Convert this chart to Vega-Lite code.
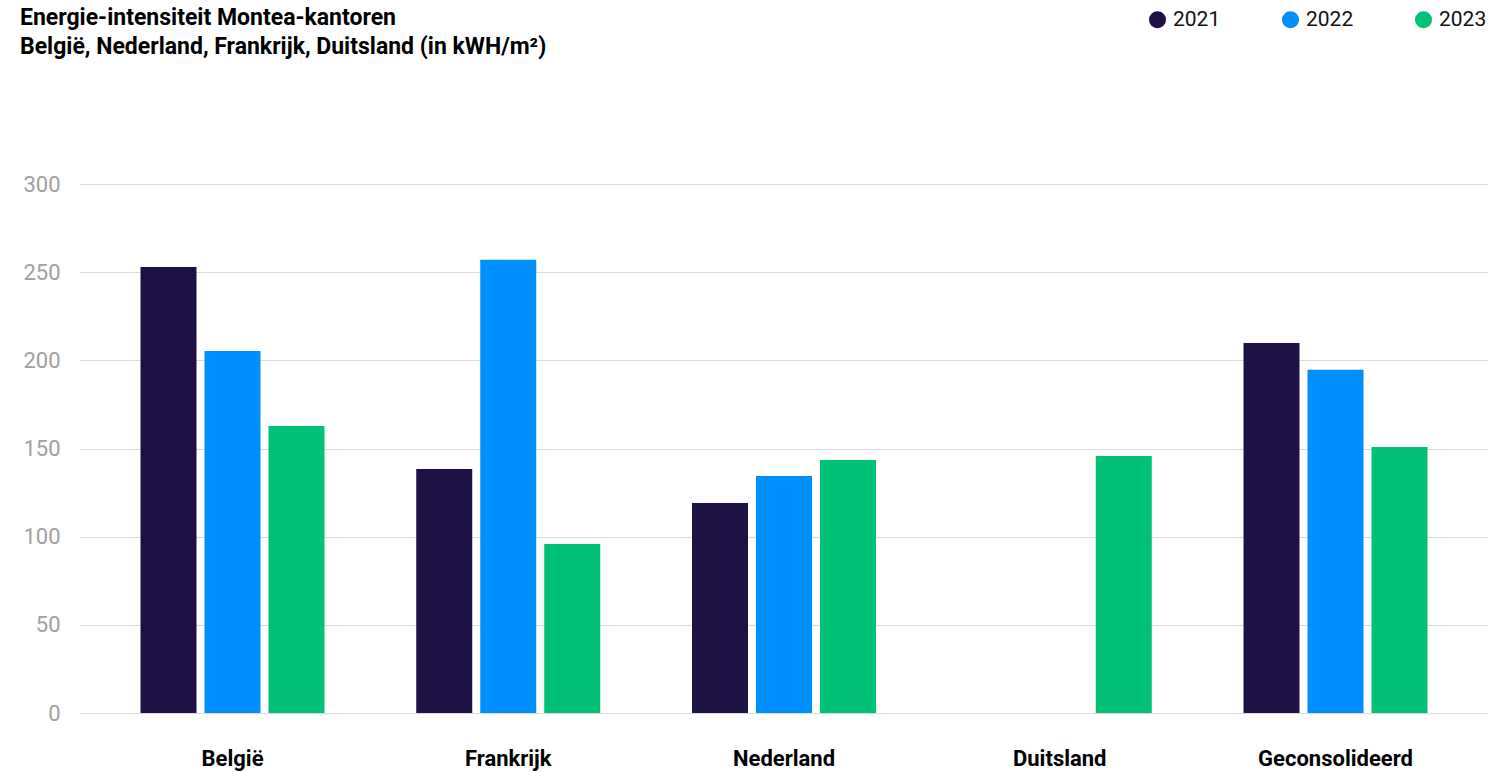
{
  "$schema": "https://vega.github.io/schema/vega-lite/v6.json",
  "width": 1408,
  "height": 529,
  "autosize": {"type": "none"},
  "padding": {"left": 80, "top": 184, "right": 0, "bottom": 59},
  "background": "white",
  "title": {
    "text": ["Energie-intensiteit Montea-kantoren", "België, Nederland, Frankrijk, Duitsland (in kWH/m²)"],
    "anchor": "start",
    "frame": "group",
    "dx": -60,
    "offset": -50,
    "font": "Roboto",
    "fontSize": 23,
    "fontWeight": "bold",
    "color": "#000000",
    "lineHeight": 29
  },
  "config": {"view": {"stroke": null}},
  "data": {
    "values": [
      {"land": "België", "jaar": "2021", "waarde": 253},
      {"land": "België", "jaar": "2022", "waarde": 205.3},
      {"land": "België", "jaar": "2023", "waarde": 162.8},
      {"land": "Frankrijk", "jaar": "2021", "waarde": 138.4},
      {"land": "Frankrijk", "jaar": "2022", "waarde": 257},
      {"land": "Frankrijk", "jaar": "2023", "waarde": 95.9},
      {"land": "Nederland", "jaar": "2021", "waarde": 119.1},
      {"land": "Nederland", "jaar": "2022", "waarde": 134.4},
      {"land": "Nederland", "jaar": "2023", "waarde": 143.5},
      {"land": "Duitsland", "jaar": "2021", "waarde": null},
      {"land": "Duitsland", "jaar": "2022", "waarde": null},
      {"land": "Duitsland", "jaar": "2023", "waarde": 145.8},
      {"land": "Geconsolideerd", "jaar": "2021", "waarde": 209.9},
      {"land": "Geconsolideerd", "jaar": "2022", "waarde": 194.6},
      {"land": "Geconsolideerd", "jaar": "2023", "waarde": 150.9}
    ]
  },
  "mark": {"type": "bar"},
  "encoding": {
    "x": {
      "field": "land",
      "type": "nominal",
      "sort": ["België", "Frankrijk", "Nederland", "Duitsland", "Geconsolideerd"],
      "scale": {"paddingInner": 0, "paddingOuter": 0.053},
      "axis": {
        "title": null,
        "labelAngle": 0,
        "labelFont": "Roboto",
        "labelFontSize": 22,
        "labelFontWeight": "bold",
        "labelColor": "#000000",
        "labelPadding": 35,
        "domain": false,
        "ticks": false
      }
    },
    "xOffset": {
      "field": "jaar",
      "type": "nominal",
      "scale": {"paddingInner": 0.125, "paddingOuter": 0.717}
    },
    "y": {
      "field": "waarde",
      "type": "quantitative",
      "scale": {"domain": [0, 300]},
      "axis": {
        "title": null,
        "values": [0, 50, 100, 150, 200, 250, 300],
        "grid": true,
        "gridColor": "#dcdcdc",
        "gridWidth": 1,
        "domain": false,
        "ticks": false,
        "labelFont": "Roboto",
        "labelFontSize": 22,
        "labelColor": "#a0a0a0",
        "labelPadding": 20
      }
    },
    "color": {
      "field": "jaar",
      "type": "nominal",
      "scale": {"domain": ["2021", "2022", "2023"], "range": ["#1e1145", "#008ffe", "#00c176"]},
      "legend": {
        "title": null,
        "orient": "none",
        "legendX": 1067,
        "legendY": -175,
        "direction": "horizontal",
        "symbolType": "circle",
        "symbolSize": 290,
        "symbolStrokeWidth": 0,
        "labelFont": "Roboto",
        "labelFontSize": 21,
        "labelColor": "#111111",
        "labelOffset": 5,
        "columnPadding": 59
      }
    }
  }
}
